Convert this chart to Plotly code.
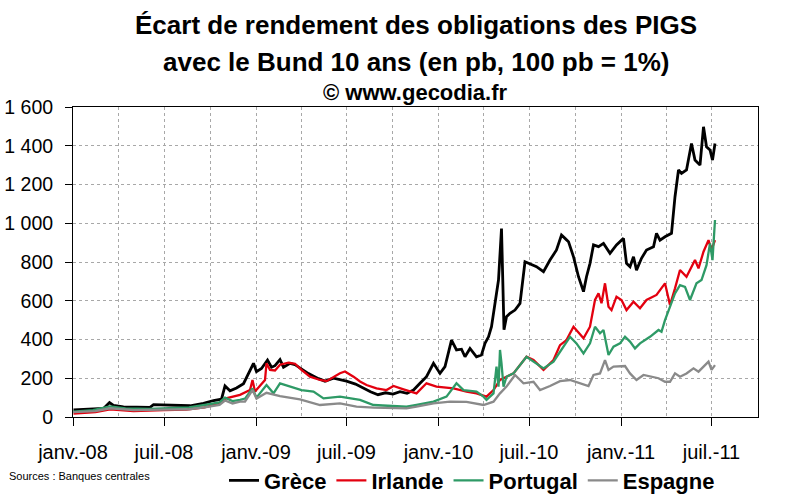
import plotly.graph_objects as go

# ---------------- data ----------------
grece_dates = ["2008-01-02","2008-02-04","2008-03-02","2008-03-14","2008-03-22","2008-04-11","2008-05-07","2008-06-03","2008-06-10","2008-07-13","2008-08-22","2008-09-18","2008-10-08","2008-10-24","2008-10-31","2008-11-10","2008-11-23","2008-12-07","2008-12-17","2008-12-27","2009-01-02","2009-01-12","2009-01-24","2009-02-01","2009-02-08","2009-02-18","2009-02-25","2009-03-10","2009-03-20","2009-04-02","2009-04-16","2009-05-06","2009-05-19","2009-06-05","2009-06-14","2009-07-01","2009-07-19","2009-08-03","2009-08-18","2009-09-02","2009-09-17","2009-10-02","2009-10-16","2009-10-30","2009-11-12","2009-11-25","2009-12-08","2009-12-22","2010-01-04","2010-01-14","2010-01-27","2010-02-06","2010-02-16","2010-02-23","2010-03-05","2010-03-18","2010-03-28","2010-04-04","2010-04-11","2010-04-17","2010-04-24","2010-05-01","2010-05-07","2010-05-12","2010-05-17","2010-05-24","2010-06-03","2010-06-13","2010-06-23","2010-06-30","2010-07-16","2010-07-30","2010-08-12","2010-08-25","2010-09-04","2010-09-11","2010-09-18","2010-09-28","2010-10-08","2010-10-18","2010-10-24","2010-10-31","2010-11-07","2010-11-17","2010-11-27","2010-12-10","2010-12-23","2011-01-06","2011-01-12","2011-01-19","2011-01-26","2011-02-01","2011-02-11","2011-02-21","2011-03-07","2011-03-13","2011-03-20","2011-03-30","2011-04-12","2011-04-19","2011-04-26","2011-05-02","2011-05-12","2011-05-22","2011-05-29","2011-06-08","2011-06-15","2011-06-21","2011-06-28","2011-07-03","2011-07-08"]
grece_vals = [36,40,44,74,60,52,50,50,64,60,58,70,85,92,160,135,150,172,225,277,234,250,294,257,265,296,257,277,270,250,224,198,185,200,195,185,170,150,130,115,125,118,131,122,139,174,208,277,225,260,397,346,350,311,354,311,320,380,414,466,586,707,973,450,518,535,552,586,801,793,776,750,810,862,939,922,905,827,724,647,724,793,888,879,896,845,888,922,793,776,827,758,819,862,879,948,913,930,948,1137,1275,1257,1275,1412,1326,1300,1498,1395,1378,1326,1412]

irlande_dates = ["2008-01-02","2008-02-15","2008-03-15","2008-05-01","2008-07-01","2008-08-15","2008-09-20","2008-10-20","2008-11-02","2008-11-23","2008-11-30","2008-12-20","2008-12-25","2008-12-30","2009-01-19","2009-01-22","2009-01-29","2009-02-08","2009-02-18","2009-03-07","2009-03-20","2009-04-02","2009-04-19","2009-05-09","2009-05-22","2009-06-18","2009-06-28","2009-07-15","2009-07-28","2009-08-10","2009-08-30","2009-09-19","2009-10-03","2009-10-23","2009-11-18","2009-12-08","2009-12-28","2010-01-31","2010-02-26","2010-03-18","2010-04-07","2010-04-21","2010-05-04","2010-05-17","2010-05-31","2010-06-26","2010-07-10","2010-07-30","2010-08-19","2010-09-01","2010-09-14","2010-09-28","2010-10-18","2010-10-31","2010-11-10","2010-11-17","2010-11-23","2010-11-30","2010-12-07","2010-12-13","2010-12-23","2011-01-02","2011-01-12","2011-01-26","2011-02-08","2011-02-21","2011-03-13","2011-03-30","2011-04-09","2011-04-19","2011-04-29","2011-05-12","2011-05-29","2011-06-05","2011-06-15","2011-06-25","2011-07-01","2011-07-08"]
irlande_vals = [18,25,40,30,35,38,50,70,96,110,114,139,191,131,191,277,243,240,270,280,275,243,208,191,185,226,235,208,183,165,148,139,160,143,122,174,157,148,131,122,105,139,191,208,225,311,294,243,294,371,397,466,406,466,604,638,587,690,569,552,621,604,552,595,561,604,630,690,578,664,759,724,810,767,853,913,862,913]

portugal_dates = ["2008-01-02","2008-02-10","2008-03-15","2008-04-15","2008-06-01","2008-07-15","2008-08-20","2008-09-20","2008-10-20","2008-10-31","2008-11-15","2008-11-30","2008-12-10","2008-12-25","2009-01-02","2009-01-22","2009-02-05","2009-02-18","2009-03-10","2009-04-02","2009-04-26","2009-05-16","2009-06-18","2009-07-08","2009-07-28","2009-08-24","2009-09-26","2009-10-29","2009-11-18","2009-12-22","2010-01-17","2010-02-06","2010-02-20","2010-03-18","2010-04-01","2010-04-07","2010-04-21","2010-04-27","2010-05-01","2010-05-04","2010-05-07","2010-05-11","2010-05-17","2010-05-31","2010-06-26","2010-07-10","2010-07-30","2010-08-19","2010-09-01","2010-09-21","2010-10-04","2010-10-18","2010-10-31","2010-11-10","2010-11-20","2010-11-27","2010-12-07","2010-12-17","2010-12-30","2011-01-09","2011-01-19","2011-01-29","2011-02-08","2011-02-28","2011-03-17","2011-03-23","2011-03-30","2011-04-06","2011-04-19","2011-04-29","2011-05-09","2011-05-19","2011-06-01","2011-06-11","2011-06-21","2011-06-28","2011-07-03","2011-07-08"]
portugal_vals = [28,35,55,45,42,48,50,62,75,100,82,88,95,148,100,165,122,174,157,139,131,96,105,96,88,62,57,53,62,79,105,174,139,131,105,88,122,260,157,346,277,157,208,225,311,286,251,286,337,414,380,328,380,466,432,449,320,363,380,414,389,354,380,414,449,440,500,552,638,681,672,604,690,707,784,896,810,1017]

espagne_dates = ["2008-01-02","2008-02-15","2008-03-15","2008-05-01","2008-07-01","2008-08-20","2008-09-20","2008-10-20","2008-10-31","2008-11-15","2008-11-30","2008-12-10","2008-12-25","2009-01-02","2009-01-22","2009-02-18","2009-03-30","2009-05-09","2009-06-18","2009-07-21","2009-08-24","2009-10-29","2009-11-18","2009-12-22","2010-01-24","2010-02-26","2010-04-01","2010-04-21","2010-05-04","2010-05-17","2010-06-03","2010-06-20","2010-07-10","2010-07-23","2010-08-12","2010-09-01","2010-09-21","2010-10-11","2010-10-28","2010-11-07","2010-11-20","2010-11-30","2010-12-07","2010-12-17","2011-01-09","2011-01-19","2011-02-01","2011-02-15","2011-02-28","2011-03-17","2011-03-30","2011-04-09","2011-04-19","2011-04-29","2011-05-12","2011-05-26","2011-06-05","2011-06-15","2011-06-25","2011-07-01","2011-07-08"]
espagne_vals = [25,30,45,35,38,40,50,62,85,70,79,80,139,95,125,108,91,62,70,53,48,45,53,70,79,78,62,79,122,157,217,174,182,139,160,185,191,174,160,217,225,294,243,260,263,225,191,217,208,200,182,182,225,208,225,251,234,260,286,243,268]

series_names = ["Grèce", "Irlande", "Portugal", "Espagne"]
series_colors = ["#000000", "#e3000f", "#2e9a66", "#8a8a8a"]
series_widths = [2.8, 2.3, 2.3, 2.3]

x_tickvals = ["2008-01-01","2008-07-01","2009-01-01","2009-07-01","2010-01-01","2010-07-01","2011-01-01","2011-07-01"]
x_ticktext = ["janv.-08","juil.-08","janv.-09","juil.-09","janv.-10","juil.-10","janv.-11","juil.-11"]
y_tickvals = [0,200,400,600,800,1000,1200,1400,1600]
y_ticktext = ["0","200","400","600","800","1 000","1 200","1 400","1 600"]

title_lines = ["Écart de rendement des obligations des PIGS",
               "avec le Bund 10 ans (en pb, 100 pb = 1%)",
               "© www.gecodia.fr"]
source_text = "Sources : Banques centrales"

FONT = "Liberation Sans, Arial, sans-serif"

fig = go.Figure()
all_dates = [grece_dates, irlande_dates, portugal_dates, espagne_dates]
all_vals = [grece_vals, irlande_vals, portugal_vals, espagne_vals]
for name, d, v, c, w in zip(series_names, all_dates, all_vals, series_colors, series_widths):
    fig.add_trace(go.Scatter(x=d, y=v, mode="lines", name=name,
                             line=dict(color=c, width=w)))

grid = dict(gridcolor="#a8a8a8", griddash="dot", gridwidth=1)

fig.update_layout(
    width=800, height=498,
    margin=dict(l=73, r=42, t=107, b=81),
    paper_bgcolor="white", plot_bgcolor="white",
    font=dict(family=FONT, color="black"),
    showlegend=True,
    legend=dict(orientation="h", xref="container", yref="container",
                x=0.28, y=0.035, xanchor="left", yanchor="middle",
                font=dict(family=FONT, size=22, color="black", weight="bold"),
                itemwidth=30, traceorder="normal", bgcolor="rgba(0,0,0,0)"),
)

fig.update_xaxes(type="date", range=["2008-01-01", "2011-10-02"], automargin=False,
                 tickmode="array", tickvals=x_tickvals, ticktext=x_ticktext,
                 ticks="outside", ticklen=8, tickcolor="black", tickwidth=1,
                 tickfont=dict(size=20, family=FONT, color="black"),
                 ticklabelstandoff=9,
                 showline=True, linecolor="black", linewidth=1, mirror=True,
                 showgrid=True, zeroline=False,
                 minor=dict(dtick="M3", tick0="2008-01-01", showgrid=True,
                            gridcolor="#a8a8a8", griddash="dot", ticks=""),
                 **grid)
fig.update_yaxes(range=[0, 1600], automargin=False,
                 tickmode="array", tickvals=y_tickvals, ticktext=y_ticktext,
                 ticks="outside", ticklen=7, tickcolor="black", tickwidth=1,
                 tickfont=dict(size=19.5, family=FONT, color="black"),
                 ticklabelstandoff=8,
                 showline=True, linecolor="black", linewidth=1, mirror=True,
                 showgrid=True, zeroline=False, **grid)

title_sizes = [26, 26, 22]
title_y = [1.265, 1.145, 1.047]
for txt, s, yy in zip(title_lines, title_sizes, title_y):
    fig.add_annotation(text=txt, xref="paper", yref="paper", x=0.5, y=yy,
                       xanchor="center", yanchor="middle", showarrow=False,
                       font=dict(family=FONT, size=s, color="black", weight="bold"))

fig.add_annotation(text=source_text, xref="paper", yref="paper", x=-0.0964, y=-0.19,
                   xanchor="left", yanchor="middle", showarrow=False,
                   font=dict(family=FONT, size=11, color="black"))

fig.write_html("out.html")
